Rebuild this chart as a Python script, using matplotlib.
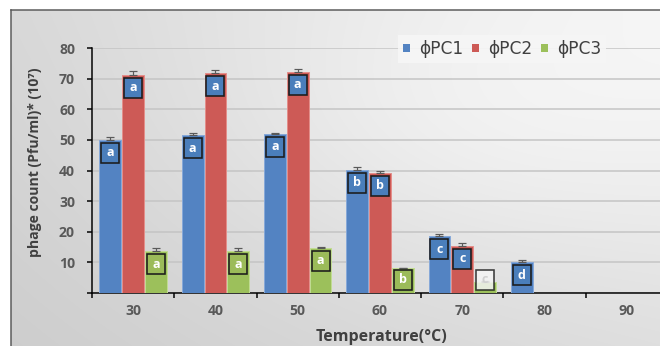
import numpy as np
import matplotlib
matplotlib.use('Agg')
import matplotlib.pyplot as plt
import matplotlib.transforms as mtransforms
from matplotlib.patches import Rectangle, Patch

# ---------------- data ----------------
categories = ['30', '40', '50', '60', '70', '80', '90']
pc1 = [50.0, 51.5, 52.0, 40.3, 18.5, 10.0, np.nan]
pc2 = [71.3, 71.7, 72.3, 39.2, 15.5, np.nan, np.nan]
pc3 = [13.7, 13.7, 14.8, 8.1, 3.5, np.nan, np.nan]
err1 = [1.0, 0.8, 0.4, 0.9, 0.7, 0.7, np.nan]
err2 = [1.2, 1.2, 0.9, 0.6, 0.7, np.nan, np.nan]
err3 = [1.0, 1.0, 0.3, 0.2, 0.3, np.nan, np.nan]
letters1 = ['a', 'a', 'a', 'b', 'c', 'd', '']
letters2 = ['a', 'a', 'a', 'b', 'c', '', '']
letters3 = ['a', 'a', 'a', 'b', 'c', '', '']
series_names = ['ϕPC1', 'ϕPC2', 'ϕPC3']
yticks = [0, 10, 20, 30, 40, 50, 60, 70, 80]

# ---------------- style ----------------
W, H, DPI = 660, 346, 72
FONT = ['Open Sans', 'DejaVu Sans']
plt.rcParams['font.family'] = FONT
colors = ['#5383c2', '#cd5a56', '#9cc05b']
edges = ['#86a8d8', '#e38e8a', '#c0db92']
box_fill = ['#4a7ebb', '#4a7ebb', '#9bbb59']

fig = plt.figure(figsize=(W / DPI, H / DPI), dpi=DPI)

# background gradient + frame
bg = fig.add_axes([0, 0, 1, 1], zorder=-5)
bg.set_axis_off()
xs = np.linspace(0, 1, W)[None, :]
ys = np.linspace(0, 1, H)[:, None]
TL, TR, BL, BR = 0.845, 0.945, 0.805, 0.87
v = TL * (1 - xs) * (1 - ys) + TR * xs * (1 - ys) + BL * (1 - xs) * ys + BR * xs * ys
cx, cy = 0.72, 0.35
v = v + 0.05 * np.exp(-(((xs - cx) / 0.45) ** 2 + ((ys - cy) / 0.45) ** 2))
v = np.clip(v, 0, 1)
img = np.dstack([v, v, v])
px = np.arange(W)[None, :].repeat(H, 0)
py = np.arange(H)[:, None].repeat(W, 1)
img[(px < 11) | (py < 10)] = 1.0
bg.imshow(img, extent=[0, W, H, 0], aspect='auto', interpolation='bilinear')
bg.plot([11, 11], [10, H], color='#5a5a5a', lw=1.5)
bg.plot([11, W], [10, 10], color='#5a5a5a', lw=1.5)
bg.set_xlim(0, W)
bg.set_ylim(H, 0)

# main axes (extends past the right edge like the cropped original)
L, R, B, T = 92, 668, 293, 48
ax = fig.add_axes([L / W, (H - B) / H, (R - L) / W, (B - T) / H])
ax.patch.set_alpha(0)

x = np.arange(len(categories))
offs = [-0.277, 0.0, 0.277]
bw = 0.265
series = [pc1, pc2, pc3]
errs = [err1, err2, err3]
letters = [letters1, letters2, letters3]

for i in range(3):
    vals = np.array(series[i], dtype=float)
    e = np.array(errs[i], dtype=float)
    ax.bar(x + offs[i], vals, width=bw, color=colors[i], edgecolor=edges[i],
           linewidth=1.0, zorder=3, label=series_names[i])
    ax.errorbar(x + offs[i], vals, yerr=[np.zeros_like(e), e], fmt='none',
                ecolor='#5a5a5a', elinewidth=1.2, capsize=4, capthick=1.2, zorder=4)

ax.set_xlim(-0.5, len(categories) - 0.5)
ax.set_ylim(0, 80)

ax.set_yticks(yticks)
ax.set_yticklabels([''] + [str(t) for t in yticks[1:]])
ax.yaxis.grid(True, color='#c4c4c4', lw=1.5, zorder=0)
ax.set_axisbelow(True)
ax.tick_params(axis='y', direction='out', length=5, width=1.5, pad=12,
               labelsize=14, labelcolor='#595959', color='black')
for lab in ax.get_yticklabels():
    lab.set_fontweight('bold')

ax.set_xticks(np.arange(-0.5, len(categories), 1.0))
ax.set_xticklabels([])
ax.set_xticks(x, minor=True)
ax.set_xticklabels(categories, minor=True)
ax.tick_params(axis='x', which='major', direction='out', length=5, width=1.5, color='black')
ax.tick_params(axis='x', which='minor', length=0, pad=11, labelsize=14, labelcolor='#595959')
for lab in ax.get_xticklabels(minor=True):
    lab.set_fontweight('bold')

for s in ['top', 'right']:
    ax.spines[s].set_visible(False)
for s in ['left', 'bottom']:
    ax.spines[s].set_color('black')
    ax.spines[s].set_linewidth(1.5)

# letter boxes
fig.canvas.draw()
to_disp = ax.transData
axis_px = to_disp.transform((0, 0))[1]
for i in range(3):
    for j, val in enumerate(series[i]):
        lt = letters[i][j]
        if not lt or np.isnan(val):
            continue
        xd = x[j] + offs[i]
        top_px = to_disp.transform((xd, val))[1]
        cy_px = max(top_px - 13, axis_px + 13.5)
        cy_data = ax.transData.inverted().transform((0, cy_px))[1]
        fill = box_fill[i]
        tcol = 'white'
        light = val < 5
        if light:
            fill = '#f4f4f4'
            tcol = '#d0d0d0'
        tr = mtransforms.Affine2D() + mtransforms.ScaledTranslation(xd, cy_data, ax.transData)
        ax.add_patch(Rectangle((-9, -10), 18, 20, transform=tr, facecolor=fill,
                               edgecolor='#1c1c1c', linewidth=1.6, zorder=5,
                               alpha=0.85 if light else 1))
        ax.annotate(lt, xy=(xd, cy_data), xytext=(0, 0), textcoords='offset pixels',
                    ha='center', va='center', color=tcol, fontsize=12.5,
                    fontweight='bold', zorder=6)

# axis labels
fig.text(381 / W, 1 - 337 / H, 'Temperature(°C)', ha='center', va='center',
         fontsize=16, fontweight='bold', color='#404040')
fig.text(35 / W, 1 - 162 / H, 'phage count (Pfu/ml)* (10⁷)', ha='center', va='center',
         rotation=90, fontsize=14, fontweight='bold', color='#404040')

# legend
handles = [Patch(facecolor=colors[i], edgecolor='none') for i in range(3)]
leg = fig.legend(handles, series_names, loc='center left', ncol=3,
                 bbox_to_anchor=(398 / W, 1 - 49 / H), bbox_transform=fig.transFigure,
                 frameon=True, fancybox=False, borderaxespad=0, borderpad=0.3,
                 handlelength=0.4, handleheight=0.4, handletextpad=0.55,
                 columnspacing=0.5, prop={'family': ['DejaVu Sans'], 'size': 17})
leg.get_frame().set_facecolor('#f6f6f6')
leg.get_frame().set_edgecolor('none')
leg.get_frame().set_alpha(0.9)
for t in leg.get_texts():
    t.set_color('#404040')

fig.savefig('out.png', dpi=DPI)
